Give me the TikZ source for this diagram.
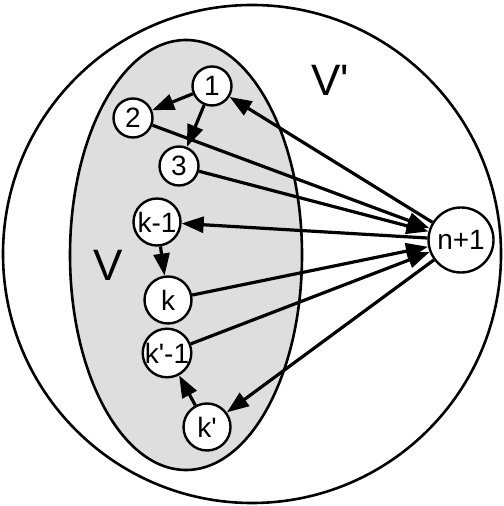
\documentclass[tikz,border=0pt]{standalone}
\usepackage{fontspec}
\setmainfont{Liberation Sans}
\usepackage{tikz}
\usetikzlibrary{arrows.meta}
\definecolor{vShade}{RGB}{222,222,222}
\definecolor{vLine}{RGB}{0,0,0}

\begin{document}
\begin{tikzpicture}[
  x=0.5pt, y=-0.5pt,
  vert/.style={draw=vLine, circle, line width=1.2pt, fill=white, inner sep=0pt, minimum size=19.5pt, font=\fontsize{14}{16}\selectfont},
  wide/.style={vert, minimum size=23.5pt},
  arr/.style={-{Triangle[length=11pt,width=8pt]}, line width=1.6pt, draw=vLine},
  setlabel/.style={font=\fontsize{22}{26}\selectfont}
]
\useasboundingbox (0,0) rectangle (503,506);
% outer set and inner set
\draw[line width=1.3pt] (252,254) circle[radius=249];
\draw[line width=1.3pt, fill=vShade] (186,255) ellipse[x radius=116, y radius=215];
\node[setlabel] (labelV) at (108,265) {V};
\node[setlabel] (labelVp) at (330,80) {V\textquotesingle};
% vertices
\node[vert] (one) at (212,86) {1};
\node[vert] (two) at (133,118) {2};
\node[vert] (three) at (179,166) {3};
\node[wide] (km) at (157,222) {k-1};
\node[wide] (k) at (168,300) {k};
\node[wide] (kpm) at (167,353) {k\textquotesingle-1};
\node[wide] (kp) at (207,427) {k\textquotesingle};
\node[vert, minimum size=32.5pt] (np) at (461,240) {n+1};
% edges
\draw[arr] (one) -- (two);
\draw[arr] (one) -- (three);
\draw[arr] (km) -- (k);
\draw[arr] (kp) -- (kpm);
\draw[arr] (np) -- (one);
\draw[arr] (np) -- (km);
\draw[arr] (np) -- (kp);
\draw[arr] (two) -- (np);
\draw[arr] (three) -- (np);
\draw[arr] (k) -- (np);
\draw[arr] (kpm) -- (np);
\end{tikzpicture}
\end{document}
